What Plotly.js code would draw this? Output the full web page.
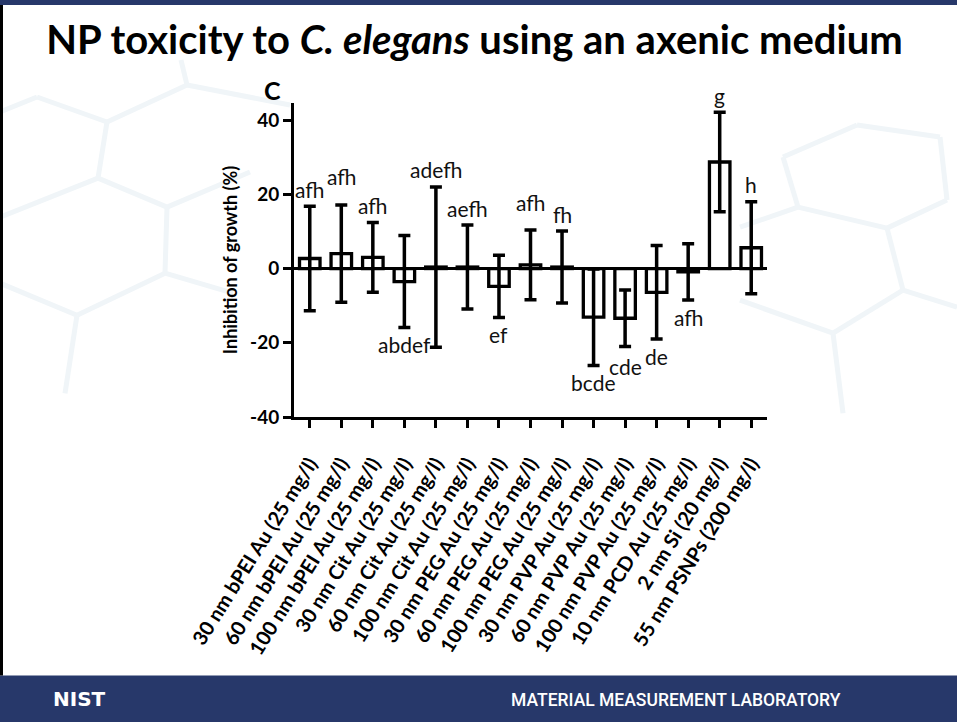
<!DOCTYPE html>
<html>
<head>
<meta charset="utf-8">
<script src="https://cdn.plot.ly/plotly-3.0.1.min.js"></script>
<style>
  html, body { margin: 0; padding: 0; background: #ffffff; }
  #chart { width: 957px; height: 722px; }
</style>
</head>
<body>
<div id="chart"></div>
<script>
// ---------------- data ----------------
const categories = [
  '30 nm bPEI Au (25 mg/l)', '60 nm bPEI Au (25 mg/l)', '100 nm bPEI Au (25 mg/l)',
  '30 nm Cit Au (25 mg/l)', '60 nm Cit Au (25 mg/l)', '100 nm Cit Au (25 mg/l)',
  '30 nm PEG Au (25 mg/l)', '60 nm PEG Au (25 mg/l)', '100 nm PEG Au (25 mg/l)',
  '30 nm PVP Au (25 mg/l)', '60 nm PVP Au (25 mg/l)', '100 nm PVP Au (25 mg/l)',
  '10 nm PCD Au (25 mg/l)', '2 nm Si (20 mg/l)', '55 nm PSNPs (200 mg/l)'
];
const inhibition = [2.7, 4.0, 3.0, -3.5, 0.4, 0.4, -4.8, 1.0, 0.4, -13.1, -13.4, -6.4, -0.9, 28.7, 5.6];
const errorSD    = [14.1, 13.1, 9.4, 12.4, 21.6, 11.3, 8.4, 9.4, 9.7, 13.0, 7.6, 12.6, 7.6, 13.4, 12.4];
const letters    = ['afh', 'afh', 'afh', 'abdef', 'adefh', 'aefh', 'ef', 'afh', 'fh', 'bcde', 'cde', 'de', 'afh', 'g', 'h'];
const yTicks     = [-40, -20, 0, 20, 40];

// ---------------- layout helpers ----------------
const W = 957, H = 722;
const plotL = 294, plotR = 767, plotT = 103, plotB = 416.7;
const px2x = p => (p - plotL) / (plotR - plotL);
const px2y = p => (plotB - p) / (plotB - plotT);
const navy = '#27386a';

const trace = {
  type: 'bar',
  x: categories,
  y: inhibition,
  marker: { color: 'rgba(255,255,255,0)', line: { color: '#000', width: 3.3 } },
  error_y: { type: 'data', array: errorSD, visible: true, color: '#000', thickness: 3.5, width: 6 },
  hoverinfo: 'x+y'
};

const extraShift = { 1: 12, 7: 10, 10: 3 };
const letterAnnots = categories.map((c, i) => {
  const up = inhibition[i] >= 0;
  const sh = 17 + (extraShift[i] || 0);
  return {
    x: c, y: up ? inhibition[i] + errorSD[i] : inhibition[i] - errorSD[i],
    xref: 'x', yref: 'y', text: letters[i], showarrow: false,
    yanchor: 'middle', yshift: up ? sh : -sh,
    font: { family: 'Lato, sans-serif', size: 21, color: '#111' }
  };
});

const decoAnnots = [
  { text: 'C', x: px2x(272), y: px2y(90), xref: 'paper', yref: 'paper', showarrow: false,
    xanchor: 'center', yanchor: 'middle', font: { family: 'Lato, sans-serif', size: 25, weight: 700, color: '#000' } },
  { text: 'NIST', x: px2x(51), y: px2y(698), xref: 'paper', yref: 'paper', showarrow: false,
    xanchor: 'left', yanchor: 'middle', font: { family: 'DejaVu Sans, sans-serif', size: 20, weight: 700, color: '#fff' } },
  { text: 'MATERIAL MEASUREMENT LABORATORY', x: px2x(676), y: px2y(699), xref: 'paper', yref: 'paper', showarrow: false,
    xanchor: 'center', yanchor: 'middle', font: { family: 'Roboto, sans-serif', size: 17.5, weight: 500, color: '#fff' } }
];

// faint hexagon background pattern (decoration), pixel segments
const hexSegs = [
  [[0,112],[37,97]], [[37,97],[107,122]], [[107,122],[187,85]], [[187,85],[181,60]], [[187,85],[290,105]],
  [[107,122],[98,178]], [[98,178],[0,217]], [[98,178],[167,207]], [[167,207],[250,172]],
  [[167,207],[165,273]], [[165,273],[77,315]], [[165,273],[233,293]], [[77,315],[65,393]], [[77,315],[0,283]],
  [[783,157],[798,207]], [[798,207],[740,227]], [[798,207],[887,228]], [[887,228],[947,200]],
  [[887,228],[903,290]], [[903,290],[957,307]], [[903,290],[833,333]], [[833,333],[843,413]], [[833,333],[740,300]],
  [[783,157],[857,125]], [[857,125],[940,137]], [[940,137],[947,200]]
];
const hexShapes = hexSegs.map(s => ({
  type: 'line', xref: 'paper', yref: 'paper', layer: 'below',
  x0: px2x(s[0][0]), y0: px2y(s[0][1]), x1: px2x(s[1][0]), y1: px2y(s[1][1]),
  line: { color: '#f0f5f8', width: 5 }
}));

const shapes = hexShapes.concat([
  { type: 'rect', xref: 'paper', yref: 'paper', x0: px2x(0), x1: px2x(W), y0: px2y(675), y1: px2y(H),
    fillcolor: navy, line: { width: 0 }, layer: 'below' },
  { type: 'rect', xref: 'paper', yref: 'paper', x0: px2x(0), x1: px2x(W), y0: px2y(0), y1: px2y(5),
    fillcolor: navy, line: { width: 0 }, layer: 'below' },
  { type: 'rect', xref: 'paper', yref: 'paper', x0: px2x(0), x1: px2x(3), y0: px2y(5), y1: px2y(675),
    fillcolor: '#000', line: { width: 0 }, layer: 'below' }
]);

const layout = {
  width: W, height: H,
  margin: { l: plotL, r: W - plotR, t: plotT, b: H - plotB, pad: 0 },
  paper_bgcolor: '#ffffff',
  plot_bgcolor: 'rgba(0,0,0,0)',
  showlegend: false,
  bargap: 0.35,
  title: {
    text: 'NP toxicity to <i>C. elegans</i> using an axenic medium',
    xref: 'container', yref: 'container', x: 474.5 / W, y: 1 - 40 / H,
    xanchor: 'center', yanchor: 'middle',
    font: { family: 'Lato, sans-serif', size: 40, weight: 700, color: '#000' }
  },
  xaxis: {
    type: 'category',
    range: [-0.5, 14.5],
    showline: true, linecolor: '#000', linewidth: 3,
    ticks: 'outside', ticklen: 8, tickwidth: 3, tickcolor: '#000',
    tickangle: -58, ticklabelstandoff: 16,
    tickfont: { family: 'Lato, sans-serif', size: 20, weight: 700, color: '#000' },
    showgrid: false, zeroline: false, fixedrange: true
  },
  yaxis: {
    range: [-40, 44.6],
    tickvals: yTicks, ticktext: yTicks.map(String),
    showline: true, linecolor: '#000', linewidth: 3,
    ticks: 'outside', ticklen: 8, tickwidth: 3, tickcolor: '#000',
    tickfont: { family: 'Lato, sans-serif', size: 19, weight: 700, color: '#000' },
    showgrid: false,
    zeroline: true, zerolinecolor: '#000', zerolinewidth: 3,
    title: { text: 'Inhibition of growth (%)', standoff: 8,
      font: { family: 'Lato, sans-serif', size: 18, weight: 700, color: '#000' } },
    fixedrange: true
  },
  annotations: letterAnnots.concat(decoAnnots),
  shapes: shapes
};

Plotly.newPlot('chart', [trace], layout, { displayModeBar: false, staticPlot: true });
</script>
</body>
</html>
